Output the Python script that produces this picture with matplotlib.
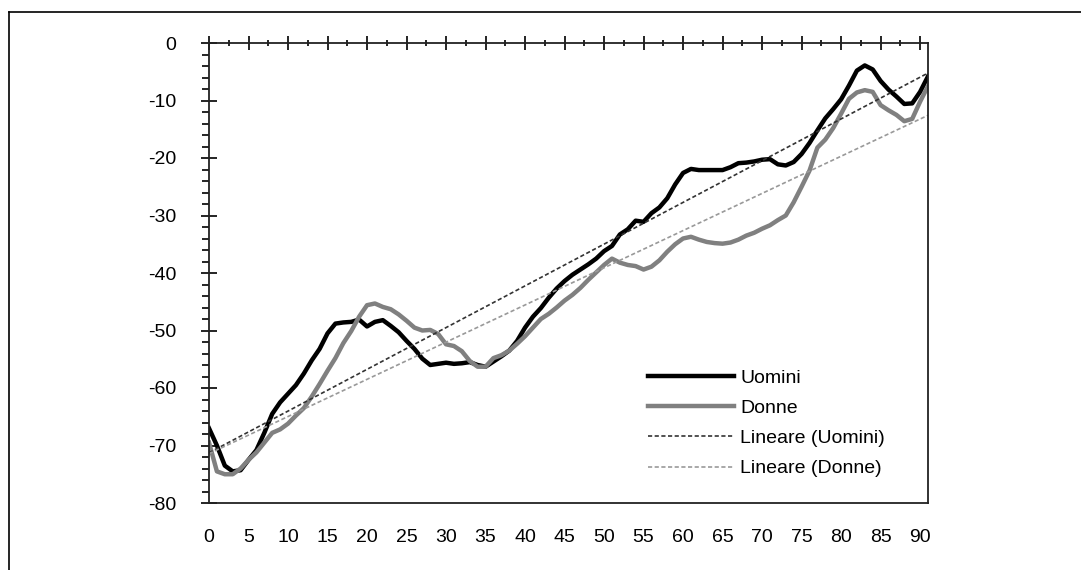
import numpy as np
from matplotlib import pyplot as plt
from matplotlib.lines import Line2D
import matplotlib.ticker as ticker

plt.rcParams['font.family'] = ['Liberation Sans', 'DejaVu Sans']
plt.rcParams['axes.unicode_minus'] = False

# Età 0..91
eta = np.arange(92)

uomini = [-67, -70, -73.5, -74.5, -74.3, -72.5, -70.8, -67.8, -64.5, -62.5,
          -61, -59.5, -57.5, -55.2, -53.2, -50.5, -48.8, -48.6, -48.5, -48.1,
          -49.3, -48.5, -48.2, -49.2, -50.3, -51.8, -53.2, -54.9, -56, -55.8,
          -55.6, -55.8, -55.7, -55.5, -56, -56.3, -55.4, -54.5, -53.5, -51.8,
          -49.5, -47.6, -46.1, -44.3, -42.7, -41.4, -40.3, -39.4, -38.5, -37.5,
          -36.2, -35.3, -33.3, -32.4, -30.9, -31.1, -29.6, -28.6, -27, -24.6,
          -22.6, -21.9, -22.1, -22.1, -22.1, -22.1, -21.6, -20.9, -20.8, -20.6,
          -20.3, -20.2, -21.1, -21.3, -20.7, -19.3, -17.4, -15.2, -13.1, -11.5,
          -9.8, -7.4, -4.8, -3.9, -4.6, -6.6, -8.1, -9.3, -10.6, -10.5,
          -8.5, -5.8]

donne = [-69.5, -74.5, -75, -75, -74, -72.5, -71.2, -69.5, -67.8, -67.2,
         -66.2, -64.8, -63.5, -61.5, -59.3, -57, -54.8, -52.2, -50.1, -47.6,
         -45.6, -45.3, -45.9, -46.3, -47.2, -48.3, -49.5, -50, -49.9, -50.6,
         -52.4, -52.7, -53.6, -55.3, -56.3, -56.3, -54.8, -54.3, -53.5, -52.3,
         -51, -49.5, -48, -47.1, -46, -44.8, -43.8, -42.6, -41.2, -39.9,
         -38.6, -37.5, -38.2, -38.6, -38.8, -39.4, -38.9, -37.8, -36.3, -35,
         -34, -33.7, -34.2, -34.6, -34.8, -34.9, -34.7, -34.2, -33.5, -33,
         -32.3, -31.7, -30.8, -30, -27.7, -25, -22.2, -18.2, -16.8, -14.8,
         -12.3, -9.7, -8.6, -8.2, -8.5, -10.8, -11.7, -12.5, -13.6, -13.2,
         -10.2, -7.5]

fig = plt.figure(figsize=(10.81, 5.70), dpi=100)
ax = fig.add_axes([209 / 1081, 67 / 570, 719 / 1081, 460 / 570])

# rette di tendenza lineari
pu = np.polyfit(eta, uomini, 1)
pd = np.polyfit(eta, donne, 1)

ax.plot(eta, uomini, color='black', lw=3.2, label='Uomini', solid_joinstyle='round')
ax.plot(eta, donne, color='#808080', lw=3.2, label='Donne', solid_joinstyle='round')
ax.plot(eta, np.polyval(pu, eta), color='#333333', lw=1.2, dashes=(2.5, 1.5),
        label='Lineare (Uomini)')
ax.plot(eta, np.polyval(pd, eta), color='#999999', lw=1.2, dashes=(2.5, 1.5),
        label='Lineare (Donne)')

ax.set_xlim(0, 91)
ax.set_ylim(-80, 0)

ax.xaxis.set_major_locator(ticker.MultipleLocator(5))
ax.xaxis.set_minor_locator(ticker.MultipleLocator(2.5))
ax.yaxis.set_major_locator(ticker.MultipleLocator(10))
ax.yaxis.set_minor_locator(ticker.MultipleLocator(2))

ax.tick_params(axis='x', which='both', bottom=False, top=True,
               labelbottom=True, labeltop=False)
ax.tick_params(axis='x', which='major', direction='inout', length=10, width=1.2,
               pad=14, labelsize=14)
ax.tick_params(axis='x', which='minor', direction='inout', length=5, width=1.2)
ax.tick_params(axis='y', which='major', direction='inout', length=11, width=1.2,
               pad=18, labelsize=14)
ax.tick_params(axis='y', which='minor', direction='out', length=5, width=1.2)

for s in ax.spines.values():
    s.set_linewidth(1.3)
    s.set_color('#222222')

ax.legend(loc='upper left', bbox_to_anchor=(648 / 1081, 1 - 369 / 570),
          bbox_transform=fig.transFigure, frameon=False, fontsize=14,
          handlelength=4.4, handletextpad=0.35, labelspacing=0.65,
          borderpad=0, borderaxespad=0)

# cornice esterna (solo lati sinistro e superiore)
fig.add_artist(Line2D([9 / 1081, 9 / 1081], [0, 1 - 12 / 570], color='black',
                      lw=1.2, transform=fig.transFigure))
fig.add_artist(Line2D([9 / 1081, 1], [1 - 12 / 570, 1 - 12 / 570], color='black',
                      lw=1.2, transform=fig.transFigure))

fig.savefig('out.png', dpi=100)
